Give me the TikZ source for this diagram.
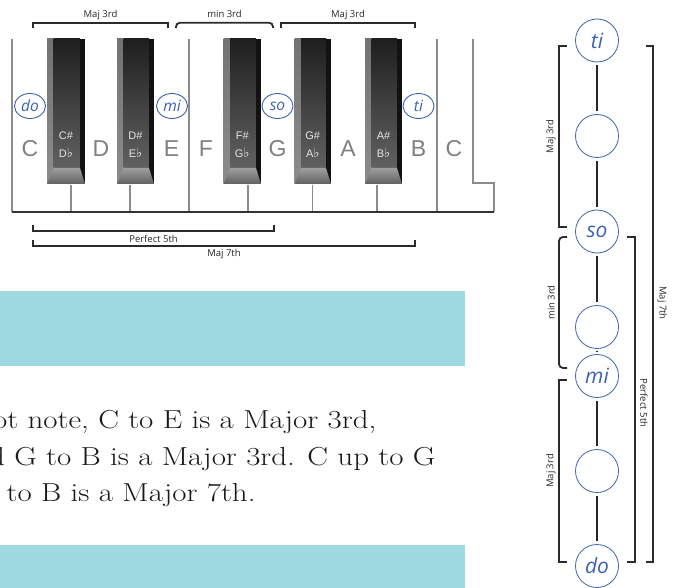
\documentclass[tikz,border=0pt]{standalone}
\usepackage{fontspec}
\usepackage{xcolor}
\usepackage{tikz}
\usetikzlibrary{positioning,shapes.geometric}

\newfontfamily\labelfont{Open Sans}
\newfontfamily\keyfont{Liberation Sans}
\newfontfamily\symfont{DejaVu Sans}
\newfontfamily\bodyfont{Latin Modern Roman}[FakeStretch=1.19]
\newcommand{\flatsign}{{\symfont\fontsize{13}{13}\selectfont ♭}}

\definecolor{solblue}{HTML}{3D62B3}
\definecolor{barcyan}{HTML}{9ED9E0}
\definecolor{bracketgray}{HTML}{2B2B2B}

\begin{document}
\begin{tikzpicture} [
    x=1pt, y=-1pt,
    keysolfa/.style={ellipse, draw=solblue, line width=0.9pt, minimum width=31pt, minimum height=25pt, inner sep=0pt, text=solblue, font=\labelfont\itshape\fontsize{15.5}{15.5}\selectfont},
    rung/.style={circle, draw=solblue, line width=0.8pt, minimum size=43pt, inner sep=0pt, text=solblue, font=\labelfont\itshape\fontsize{21}{21}\selectfont},
    letter/.style={inner sep=0pt, text=black!50, font=\keyfont\fontsize{23}{23}\selectfont},
    acc/.style={inner sep=0pt, text=white!90!black, font=\keyfont\fontsize{11}{11}\selectfont},
    interval/.style={inner sep=0pt, text=black!85, font=\labelfont\fontsize{9.5}{9.5}\selectfont},
    bracket/.style={draw=bracketgray, line width=1.8pt},
    keyline/.style={draw=black!45, line width=1.1pt},
    link/.style={draw=black!85, line width=1.4pt, shorten <=3pt, shorten >=3pt},
    para/.style={inner sep=0pt, anchor=base west, text=black!90, font=\bodyfont\fontsize{26}{26}\selectfont}
]
\useasboundingbox (0,0) rectangle (677,588);

\begin{scope}
\clip (0,0) rectangle (677,588);

% Keyboard
\fill[white] (12,39) rectangle (473,212);
\fill[white] (473,183) rectangle (494,212);
\draw[keyline] (12,39) -- (12,212);
\draw[keyline] (189,39) -- (189,212);
\draw[keyline] (437,39) -- (437,212);
\draw[keyline] (473,39) -- (473,183) -- (494,183) -- (494,212);
\foreach \x in {71,130,248,312.7,377}
  \draw[keyline] (\x,185) -- (\x,212);
\draw[black!80, line width=1.3pt] (12,212) -- (494,212);

\foreach \xa/\xb/\sh/\fl [count=\i] in {47/85/C/D, 117/154/D/E, 223.5/261/F/G, 294.5/331/G/A, 365/402/A/B} {
  \fill[black!88] (\xa,39) rectangle (\xb,184);
  \shade[top color=black!55, bottom color=black!45] (\xa,39) rectangle (\xa+6.5,184);
  \shade[top color=black!88, bottom color=black!62] (\xa+6.5,39) rectangle (\xb-5,168);
  \fill[black!93] (\xb-5,39) rectangle (\xb,184);
  \shade[top color=black!38, bottom color=black!62] (\xa+6.5,168) -- (\xb-5,168) -- (\xb,184) -- (\xa,184) -- cycle;
  \node[acc] (sharp\i) at ({(\xa+\xb)/2},136) {\sh\#};
  \node[acc] (flat\i) at ({(\xa+\xb)/2},153) {\fl\flatsign};
}

\foreach \x/\n [count=\i] in {30/C, 101/D, 171.5/E, 206/F, 277.5/G, 348/A, 418.5/B, 454/C}
  \node[letter] (white\i) at (\x,148.5) {\n};

\node[keysolfa] (kdo) at (30,106) {do};
\node[keysolfa] (kmi) at (172,106) {mi};
\node[keysolfa] (kso) at (277.5,106) {so};
\node[keysolfa] (kti) at (418.5,106) {ti};

% Brackets over and under the keys
\draw[bracket] (33,28) -- (33,22.7) -- (168,22.7) -- (168,28);
\draw[bracket, rounded corners=4pt] (176,28) -- (176,22.7) -- (273,22.7) -- (273,28);
\draw[bracket] (281,28) -- (281,22.7) -- (415,22.7) -- (415,28);
\node[interval, anchor=base] (topmajA) at (100.5,17.5) {Maj 3rd};
\node[interval, anchor=base] (topmin) at (224.5,17.5) {min 3rd};
\node[interval, anchor=base] (topmajB) at (348,17.5) {Maj 3rd};

\draw[bracket] (33,225) -- (33,230.7) -- (274,230.7) -- (274,225);
\draw[bracket] (33,240) -- (33,245.7) -- (415,245.7) -- (415,240);
\node[interval, anchor=base] (fifth) at (153.5,242.5) {Perfect 5th};
\node[interval, anchor=base] (seventh) at (224,256.5) {Maj 7th};

% Bars and text
\fill[barcyan] (0,291) rectangle (465,366);
\fill[barcyan] (0,545) rectangle (465,588);
\node[para] (lineA) at (-7,428.3) {ot note, C to E is a Major 3rd,};
\node[para] (lineB) at (-11,465) {d G to B is a Major 3rd. C up to G};
\node[para] (lineC) at (6.5,501.7) {to B is a Major 7th.};

% Solfa ladder
\node[rung] (ti) at (597,40.5) {ti};
\node[rung] (la) at (597,136) {};
\node[rung] (so) at (597,231.5) {so};
\node[rung] (fa) at (597,327) {};
\node[rung] (mi) at (597,376) {mi};
\node[rung] (re) at (597,471) {};
\node[rung] (do) at (597,566) {do};

\draw[link] (ti) -- (la);
\draw[link] (la) -- (so);
\draw[link] (so) -- (fa);
\draw[link] (fa) -- (mi);
\draw[link] (mi) -- (re);
\draw[link] (re) -- (do);

% Ladder brackets
\draw[bracket] (567,46) -- (559,46) -- (559,227) -- (567,227);
\draw[bracket, rounded corners=4pt] (567,237) -- (559,237) -- (559,368) -- (567,368);
\draw[bracket] (567,380) -- (559,380) -- (559,562) -- (567,562);
\draw[bracket] (627,237) -- (635,237) -- (635,562) -- (627,562);
\draw[bracket] (646,46) -- (653,46) -- (653,562) -- (646,562);
\node[interval, rotate=90] (sidemajA) at (551,136.5) {Maj 3rd};
\node[interval, rotate=90] (sidemin) at (551,302.5) {min 3rd};
\node[interval, rotate=90] (sidemajB) at (551,471) {Maj 3rd};
\node[interval, rotate=-90] (sidefifth) at (644,403) {Perfect 5th};
\node[interval, rotate=-90] (sideseventh) at (662,303) {Maj 7th};
\end{scope}

\end{tikzpicture}
\end{document}
